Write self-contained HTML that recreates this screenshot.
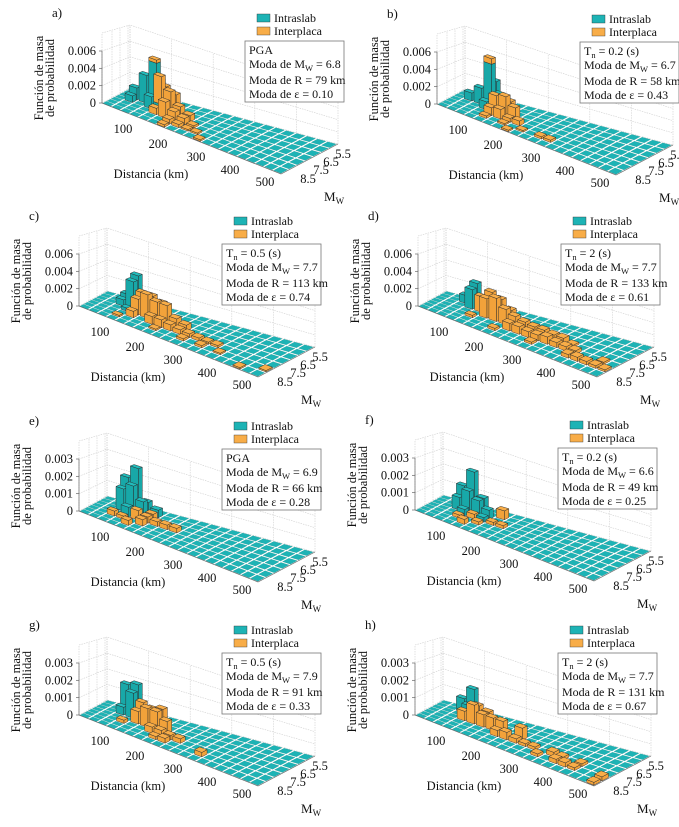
<!DOCTYPE html>
<html><head><meta charset="utf-8"><style>
html,body{margin:0;padding:0;background:#fff;}
svg{display:block;font-family:"Liberation Serif",serif;}
</style></head><body>
<svg id="fig" width="679" height="827" viewBox="0 0 679 827" xmlns="http://www.w3.org/2000/svg"></svg>
<script>
// ---- data: [distance-bin index (25 km), Mw-bin index (0=8.5 ... 6=5.5), probability]
const panelLabels=["a","b","c","d","e","f","g","h"];
const zTickLabels6=["0","0.002","0.004","0.006"];
const zTickLabels3=["0","0.001","0.002","0.003"];
const distTickLabels=["100","200","300","400","500"];
const mwTickLabels=["5.5","6.5","7.5","8.5"];
const infoTitles=["PGA","0.2","0.5","2","PGA","0.2","0.5","2"];
const modeMw=["6.8","6.7","7.7","7.7","6.9","6.6","7.9","7.7"];
const modeR=["79","58","113","133","66","49","91","131"];
const modeEps=["0.10","0.43","0.74","0.61","0.28","0.25","0.33","0.67"];
const zMax=[0.006,0.006,0.006,0.006,0.003,0.003,0.003,0.003];
const intra_a=[[1,4,.0015],[2,4,.0035],[2,5,.002],[3,4,.0055],[3,5,.003],[3,3,.0015],[4,4,.0025],[4,3,.001],[1,3,.0008],[5,4,.0008]];
const inter_a=[[3,4,.0004],[4,4,.0004],[4,3,.0035],[5,3,.003],[5,4,.0015],[6,3,.0015],[5,2,.002],[6,2,.0012],[4,2,.0008],[7,3,.0008],[7,2,.0008],[6,1,.0006],[7,1,.0004],[8,2,.0003],[8,1,.0002],[6,0,.0003],[9,1,.0002],[10,0,.0002]];
const intra_b=[[2,4,.002],[2,5,.0015],[3,4,.0055],[3,5,.003],[3,3,.001],[4,4,.002],[1,4,.001]];
const inter_b=[[3,4,.0007],[4,3,.0022],[5,3,.0025],[5,4,.0015],[4,2,.001],[5,2,.0012],[6,3,.0015],[6,2,.0005],[7,2,.0006],[4,1,.0003],[6,1,.0002],[8,1,.0002],[10,1,.0003],[11,1,.0003],[7,0,.0002]];
const intra_c=[[2,5,.0012],[3,5,.004],[3,4,.0035],[2,4,.0008],[3,3,.0004]];
const inter_c=[[4,4,.0025],[4,3,.002],[5,4,.0025],[5,3,.003],[6,3,.0025],[6,4,.002],[7,3,.0025],[4,2,.0008],[6,2,.001],[7,2,.001],[8,2,.0008],[8,3,.0012],[9,2,.0006],[9,3,.0008],[10,2,.0005],[11,2,.0004],[12,2,.0003],[10,1,.0003],[12,1,.0003],[13,2,.0003],[3,1,.0002],[7,1,.0002],[14,1,.0002],[17,0,.0002],[19,1,.0002]];
const intra_d=[[3,5,.003],[3,4,.0025],[2,5,.001],[4,5,.001]];
const inter_d=[[4,4,.002],[5,4,.003],[5,3,.0025],[6,3,.003],[6,4,.0025],[7,3,.002],[7,4,.0015],[8,3,.0015],[8,2,.001],[9,3,.0012],[9,2,.001],[10,3,.001],[10,2,.0008],[11,2,.0008],[11,3,.001],[12,2,.001],[12,3,.0008],[13,2,.0007],[13,3,.0008],[14,2,.0006],[15,2,.0005],[15,1,.0005],[16,1,.0006],[17,1,.0005],[18,1,.0004],[18,2,.0003],[19,1,.0003],[14,3,.0003],[4,2,.0003],[7,1,.0003],[11,1,.0003]];
const intra_e=[[2,5,.002],[3,5,.0028],[2,4,.0014],[3,4,.0018],[4,4,.001],[4,5,.0008],[3,3,.0006],[5,5,.0005]];
const inter_e=[[4,3,.0006],[5,4,.0004],[5,3,.0004],[6,3,.0003],[7,3,.0003],[3,2,.0002],[5,2,.0004],[2,2,.0003],[4,1,.0003],[8,3,.0003]];
const intra_f=[[2,5,.0014],[3,5,.0025],[2,4,.0008],[3,4,.0014],[4,5,.001],[4,4,.001],[5,4,.0006],[3,3,.0004],[5,3,.0003]];
const inter_f=[[6,5,.0006],[4,3,.0003],[3,2,.0002],[5,2,.0002],[6,3,.0002],[4,1,.0003],[7,3,.0002]];
const intra_g=[[2,5,.0018],[3,5,.002],[3,4,.0016],[2,4,.0005],[4,4,.0004]];
const inter_g=[[4,4,.0008],[5,4,.001],[5,3,.0012],[6,3,.0012],[6,4,.0012],[4,3,.0008],[7,3,.0008],[3,2,.0002],[6,2,.0004],[7,2,.0004],[8,2,.0003],[8,1,.0003],[9,2,.0003],[7,1,.0002],[12,1,.0003]];
const intra_h=[[2,5,.0009],[3,5,.0017],[3,4,.0008]];
const inter_h=[[3,3,.0006],[4,4,.001],[4,3,.0012],[5,4,.0008],[5,3,.0008],[6,3,.0008],[7,3,.0008],[7,2,.0004],[8,2,.0005],[9,3,.0008],[9,2,.0003],[10,2,.0002],[11,2,.0002],[12,1,.0002],[13,2,.0003],[14,1,.0003],[14,2,.0002],[15,1,.0003],[16,1,.0002],[16,2,.0002],[19,0,.0002],[19,1,.0003]];
const intraAll=[intra_a,intra_b,intra_c,intra_d,intra_e,intra_f,intra_g,intra_h];
const interAll=[inter_a,inter_b,inter_c,inter_d,inter_e,inter_f,inter_g,inter_h];

// ---- layout
const origins=[[102,103],[437,104],[79,306],[418,306],[79,511],[415,510],[79,715],[415,715]];
const NI=20,NJ=7,HPX=52,WALLPX=70;
const NS="http://www.w3.org/2000/svg";
const svg=document.getElementById('fig');
function mk(tag,attrs,parent){const e=document.createElementNS(NS,tag);for(const k in attrs)e.setAttribute(k,attrs[k]);parent.appendChild(e);return e;}
const cB=[179,71],cC=[236,41],cD=[28,-15];

panelLabels.forEach((lab,p)=>{
  const [ax,ay]=origins[p];
  const zm=zMax[p];
  const g=mk('g',{},svg);
  
  
  function P(u,v,z){
    const fx=ax+u*cB[0],fy=ay+u*cB[1];
    const bx=ax+cD[0]+u*(cC[0]-cD[0]),by=ay+cD[1]+u*(cC[1]-cD[1]);
    const x=fx*(1-v)+bx*v,y=fy*(1-v)+by*v;
    const f=1-0.2*u-0.1*v;
    return [x,y-z/zm*HPX*f];
  }
  function pts(arr){return arr.map(q=>q[0].toFixed(1)+','+q[1].toFixed(1)).join(' ');}
  const zTopVal=zm*WALLPX/HPX;
  const wg=mk('g',{stroke:'#cfcfcf','stroke-width':'0.6',fill:'none','stroke-dasharray':'1.5,1'},g);
  
  
  for(let k=0;k<=3;k++){const z=zm*k/3;const a=P(0,0,z),b=P(0,1,z),c=P(1,1,z);mk('polyline',{points:pts([a,b,c])},wg);}
  {const a=P(0,0,zTopVal),b=P(0,1,zTopVal),c=P(1,1,zTopVal);mk('polyline',{points:pts([a,b,c])},wg);}
  for(let k=0;k<=5;k++){const u=k/5;const a=P(u,1,0),b=P(u,1,zTopVal);mk('line',{x1:a[0],y1:a[1],x2:b[0],y2:b[1]},wg);}
  [0,0.5/7+2/7,0.5/7+4/7,0.5/7+6/7,1].forEach(v=>{const a=P(0,v,0),b=P(0,v,zTopVal);mk('line',{x1:a[0],y1:a[1],x2:b[0],y2:b[1]},wg);});
  const axg=mk('g',{stroke:'#666','stroke-width':'0.7',fill:'none'},g);
  
  
  {const a=P(0,0,0),b=P(1,0,0),c=P(1,1,0);mk('polyline',{points:pts([a,b,c])},axg);
   const t=P(0,0,zm);mk('line',{x1:a[0],y1:a[1],x2:t[0],y2:t[1]},axg);}
  const zl=(zm>0.004)?zTickLabels6:zTickLabels3;
  zl.forEach((t,k)=>{const q=P(0,0,zm*k/3);
    mk('line',{x1:q[0]-3,y1:q[1],x2:q[0],y2:q[1],stroke:'#666','stroke-width':'0.7'},g);
    const tx=mk('text',{x:q[0]-6,y:q[1]+4,'font-size':'12.5','text-anchor':'end',fill:'#111'},g);tx.textContent=t;
    
    });
  const grid={};
  intraAll[p].forEach(([i,j,v])=>{grid[i+','+j]=grid[i+','+j]||[0,0];grid[i+','+j][0]=v;});
  interAll[p].forEach(([i,j,v])=>{grid[i+','+j]=grid[i+','+j]||[0,0];grid[i+','+j][1]=v;});
  const cg=mk('g',{},g);
  
  
  const e=0.1;
  function box(i,j,z0,z1,top,side,name){
    const u0=(i+e)/NI,u1=(i+1-e)/NI,v0=(j+e)/NJ,v1=(j+1-e)/NJ;
    const bg=mk('g',{stroke:'#2a2a2a','stroke-width':'0.45'},cg);
    
    
    mk('polygon',{points:pts([P(u0,v0,z0),P(u1,v0,z0),P(u1,v0,z1),P(u0,v0,z1)]),fill:side},bg);
    mk('polygon',{points:pts([P(u1,v0,z0),P(u1,v1,z0),P(u1,v1,z1),P(u1,v0,z1)]),fill:side},bg);
    mk('polygon',{points:pts([P(u0,v0,z1),P(u1,v0,z1),P(u1,v1,z1),P(u0,v1,z1)]),fill:top},bg);
  }
  for(let j=NJ-1;j>=0;j--){for(let i=0;i<NI;i++){
    const c=grid[i+','+j]||[0,0];
    if(c[0]===0&&c[1]===0){
      const u0=(i+e)/NI,u1=(i+1-e)/NI,v0=(j+e)/NJ,v1=(j+1-e)/NJ;
      const t=mk('polygon',{points:pts([P(u0,v0,0),P(u1,v0,0),P(u1,v1,0),P(u0,v1,0)]),fill:'#1db3b5',stroke:'#17908f','stroke-width':'0.3'},cg);
      
      
    } else {
      if(c[0]>0)box(i,j,0,c[0],'#22bcbc','#18a8a8','bar-intraslab');
      if(c[1]>0)box(i,j,c[0],c[0]+c[1],'#f8ad48','#f2a23a','bar-interplaca');
    }
  }}
  function txt(x,y,s,size,anchor,name){const t=mk('text',{x:x,y:y,'font-size':size,'text-anchor':anchor||'start',fill:'#111'},g);t.textContent=s;
    
    return t;}
  txt(ax-50,ay-86,lab+')',13,'start','panel-label');
  const dpos=[[21,30],[56,45],[94,58],[128,71],[163,83]];
  distTickLabels.forEach((s,k)=>txt(ax+dpos[k][0],ay+dpos[k][1],s,12.5,'middle','distance-tick-label'));
  txt(ax+49,ay+75,'Distancia (km)',12.5,'middle','x-axis-title');
  const mpos=[[241,55],[229,63],[219,71],[206,80]];
  mwTickLabels.forEach((s,k)=>txt(ax+mpos[k][0],ay+mpos[k][1],s,12.5,'middle','mw-tick-label'));
  const mw=txt(ax+222,ay+98,'M',13,'start','mw-axis-title');
  const sb=mk('tspan',{'font-size':'9',dy:'3'},mw);sb.textContent='W';
  const yt=mk('text',{transform:'translate('+(ax-59)+','+(ay-25)+') rotate(-90)','font-size':'12.5','text-anchor':'middle',fill:'#111'},g);
  
  
  const y1=mk('tspan',{x:0,y:0},yt);y1.textContent='Función de masa';
  const y2=mk('tspan',{x:0,y:11},yt);y2.textContent='de probabilidad';
  const lg=mk('g',{},g);
  
  
  mk('rect',{x:ax+155,y:ay-89,width:13,height:8,fill:'#1db3b5',stroke:'#333','stroke-width':'0.4'},lg);
  mk('rect',{x:ax+155,y:ay-76,width:13,height:8,fill:'#f8ad48',stroke:'#333','stroke-width':'0.4'},lg);
  const l1=mk('text',{x:ax+172,y:ay-81,'font-size':'12',fill:'#111'},lg);l1.textContent='Intraslab';
  const l2=mk('text',{x:ax+172,y:ay-68,'font-size':'12',fill:'#111'},lg);l2.textContent='Interplaca';
  const ib=mk('g',{},g);
  
  
  const bx=ax+143,by=ay-62;
  mk('rect',{x:bx,y:by,width:99,height:61,fill:'#fff',stroke:'#777','stroke-width':'0.8'},ib);
  const t0=mk('text',{x:bx+4,y:by+13,'font-size':'12',fill:'#111'},ib);
  if(infoTitles[p]==='PGA'){t0.textContent='PGA';}
  else{t0.textContent='T';const s=mk('tspan',{'font-size':'8.5',dy:'3'},t0);s.textContent='n';const s2=mk('tspan',{dy:'-3'},t0);s2.textContent=' = '+infoTitles[p]+' (s)';}
  const t1=mk('text',{x:bx+4,y:by+27,'font-size':'12',fill:'#111'},ib);
  t1.textContent='Moda de M';{const s=mk('tspan',{'font-size':'8.5',dy:'3'},t1);s.textContent='W';const s2=mk('tspan',{dy:'-3'},t1);s2.textContent=' = '+modeMw[p];}
  const t2=mk('text',{x:bx+4,y:by+43,'font-size':'12',fill:'#111'},ib);t2.textContent='Moda de R = '+modeR[p]+' km';
  const t3=mk('text',{x:bx+4,y:by+57,'font-size':'12',fill:'#111'},ib);t3.textContent='Moda de ε = '+modeEps[p];
});
</script>
</body></html>
